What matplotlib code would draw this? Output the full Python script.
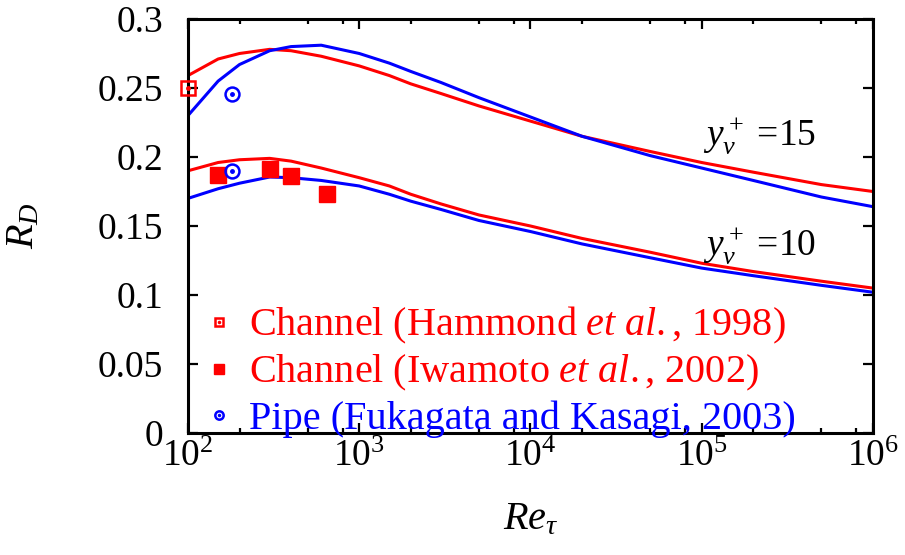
import matplotlib
matplotlib.use("Agg")
import matplotlib.pyplot as plt
from matplotlib.ticker import LogLocator, NullFormatter
from matplotlib.legend_handler import HandlerTuple

plt.rcParams['font.family'] = "serif"
plt.rcParams['font.serif'] = ["Liberation Serif", "DejaVu Serif"]
plt.rcParams['mathtext.fontset'] = "custom"
plt.rcParams['mathtext.rm'] = "Liberation Serif"
plt.rcParams['mathtext.it'] = "Liberation Serif:italic"

# model curves
re_grid = [100, 150, 200, 300, 400, 600, 1000, 1500, 2000, 3000, 5000,
           1e4, 2e4, 5e4, 1e5, 2e5, 5e5, 1e6]
channel_15 = [0.259, 0.271, 0.275, 0.278, 0.277, 0.273, 0.266, 0.259, 0.253,
              0.246, 0.237, 0.226, 0.215, 0.204, 0.196, 0.189, 0.180, 0.175]
pipe_15 = [0.230, 0.255, 0.267, 0.277, 0.280, 0.281, 0.275, 0.268, 0.262,
           0.254, 0.243, 0.229, 0.215, 0.201, 0.192, 0.183, 0.171, 0.164]
channel_10 = [0.190, 0.196, 0.198, 0.199, 0.197, 0.192, 0.185, 0.179, 0.173,
              0.166, 0.158, 0.150, 0.141, 0.131, 0.123, 0.117, 0.110, 0.105]
pipe_10 = [0.170, 0.177, 0.181, 0.1855, 0.185, 0.183, 0.179, 0.173, 0.168,
           0.162, 0.154, 0.146, 0.137, 0.127, 0.1195, 0.114, 0.107, 0.102]

# DNS points
hammond_re = [100]
hammond_rd = [0.25]
iwamoto_re = [150, 300, 400, 650]
iwamoto_rd = [0.187, 0.191, 0.186, 0.173]
pipe_re = [180, 180]
pipe_rd = [0.246, 0.190]

labels = [r"$\mathrm{Channel\ (Hammond}\ et\ al.\mathrm{{,}\ 1998)}$",
          r"$\mathrm{Channel\ (Iwamoto}\ et\ al.\mathrm{{,}\ 2002)}$",
          "Pipe (Fukagata and Kasagi, 2003)"]

red = "#ff0000"
blue = "#0000ff"

fig = plt.figure(figsize=(9.05, 5.55), dpi=100)
ax = fig.add_axes([0.2077, 0.2198, 0.7569, 0.746])

ax.plot(re_grid, channel_15, color=red, lw=2.2)
ax.plot(re_grid, channel_10, color=red, lw=2.2)
ax.plot(re_grid, pipe_15, color=blue, lw=2.2)
ax.plot(re_grid, pipe_10, color=blue, lw=2.2)

h1a, = ax.plot(hammond_re, hammond_rd, ls="none", marker="s", ms=10.5, mfc="none",
               mec=red, mew=1.8, clip_on=False, zorder=5)
h1b, = ax.plot(hammond_re, hammond_rd, ls="none", marker="o", ms=2.5, mfc=red,
               mec=red, clip_on=False, zorder=5)
h2, = ax.plot(iwamoto_re, iwamoto_rd, ls="none", marker="s", ms=11, mfc=red,
              mec=red, zorder=5)
h3a, = ax.plot(pipe_re, pipe_rd, ls="none", marker="o", ms=10, mfc="none",
               mec=blue, mew=1.8, zorder=5)
h3b, = ax.plot(pipe_re, pipe_rd, ls="none", marker="o", ms=2.5, mfc=blue,
               mec=blue, zorder=5)

ax.set_xscale("log")
ax.set_xlim(100, 1e6)
ax.set_ylim(0, 0.3)
ax.xaxis.set_minor_locator(LogLocator(base=10, subs=[2, 5, 8]))
ax.xaxis.set_minor_formatter(NullFormatter())
yt = [0, 0.05, 0.1, 0.15, 0.2, 0.25, 0.3]
ax.set_yticks(yt)
ax.set_yticklabels(["0", "0.05", "0.1", "0.15", "0.2", "0.25", "0.3"])

for s in ax.spines.values():
    s.set_linewidth(2.2)
ax.tick_params(which="both", direction="in", top=True, right=True, width=1.6)
ax.tick_params(which="major", length=7.5, labelsize=27)
ax.tick_params(which="minor", length=3.5)
ax.tick_params(axis="y", pad=18)
ax.tick_params(axis="x", pad=5)

ax.set_xlabel(r"$Re_\tau$", fontsize=29)
ax.set_ylabel(r"$R_D$", fontsize=29)
ax.xaxis.set_label_coords(0.5, -0.165)
ax.yaxis.set_label_coords(-0.213, 0.5)

ax.text(0.752, 0.696, r"$y_v^+$ =15", transform=ax.transAxes, fontsize=27,
        va="baseline")
ax.text(0.752, 0.430, r"$y_v^+$ =10", transform=ax.transAxes, fontsize=27,
        va="baseline")

leg = ax.legend([(h1a, h1b), h2, (h3a, h3b)], labels,
                handler_map={tuple: HandlerTuple(ndivide=1, pad=0)},
                loc="lower left", bbox_to_anchor=(0.004, -0.05), frameon=False,
                fontsize=29, markerscale=0.6, handlelength=0.6,
                handletextpad=0.45, labelspacing=0.17, borderaxespad=0.0)
for t, c in zip(leg.get_texts(), [red, red, blue]):
    t.set_color(c)

fig.savefig("out.png", dpi=100)
